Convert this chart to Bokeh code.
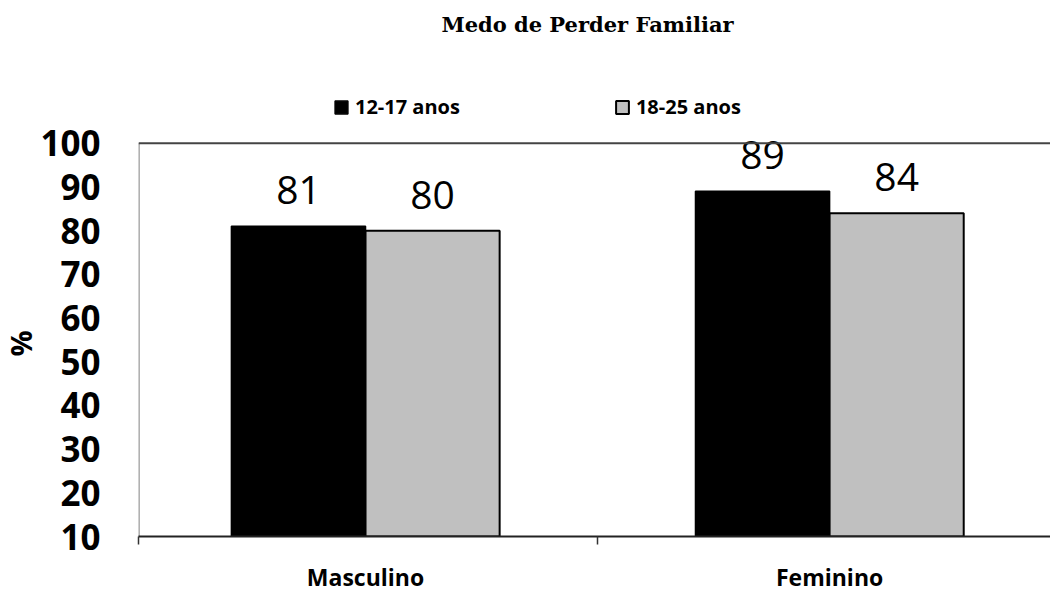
from bokeh.plotting import figure
from bokeh.models import (ColumnDataSource, FixedTicker, Legend, LegendItem,
                          Range1d, LabelSet, Label, Span, Title)
from bokeh.core.properties import value
from bokeh.embed import file_html
from bokeh.resources import INLINE

# Data
categories = ["Masculino", "Feminino"]
series_names = ["12-17 anos", "18-25 anos"]
values_12_17 = [81, 89]
values_18_25 = [80, 84]
y_ticks = [10, 20, 30, 40, 50, 60, 70, 80, 90, 100]
y_min, y_max = 10, 100

bar_w = 0.289
centers = [i + 0.5 for i in range(len(categories))]
x_start, x_end = 0.0108, 1.976

src_a = ColumnDataSource(dict(
    x=[c - bar_w / 2 for c in centers], top=values_12_17,
    label=[str(v) for v in values_12_17]))
src_b = ColumnDataSource(dict(
    x=[c + bar_w / 2 for c in centers], top=values_18_25,
    label=[str(v) for v in values_18_25]))

# The frame reaches the top of the canvas so that the title and legend
# can sit inside it, above the 100 line.
p = figure(width=1050, height=595, output_backend="svg", toolbar_location=None,
           x_range=Range1d(x_start, x_end), y_range=Range1d(y_min, 132.67),
           min_border_left=133, min_border_right=0, min_border_top=0,
           min_border_bottom=58, outline_line_color=None,
           background_fill_color="white", border_fill_color="white")

p.xgrid.visible = False
p.ygrid.visible = False

r_a = p.vbar(x="x", top="top", bottom=y_min, width=bar_w, source=src_a,
             fill_color="black", line_color="black", line_width=1.5)
r_b = p.vbar(x="x", top="top", bottom=y_min, width=bar_w, source=src_b,
             fill_color="#C0C0C0", line_color="black", line_width=2)

for src in (src_a, src_b):
    p.add_layout(LabelSet(x="x", y="top", text="label", source=src,
                          text_align="center", text_baseline="alphabetic",
                          y_offset=22, text_font=value("Open Sans"),
                          text_font_size="39px", text_color="black"))

# plot-area border: top line at 100 and left line from 10 to 100
p.add_layout(Span(location=y_max, dimension="width", line_color="#444444",
                  line_width=2))
p.segment(x0=[x_start + 0.001], y0=[y_min], x1=[x_start + 0.001], y1=[y_max],
          line_color="#555555", line_width=1)

# title
p.add_layout(Label(x=449, y=512, x_units="screen", y_units="screen",
                   text="Medo de Perder Familiar", text_align="center",
                   text_baseline="middle", text_font="DejaVu Serif",
                   text_font_style="bold", text_font_size="21px",
                   text_color="black"))

# x axis: category names centred, boundary ticks between groups
xa = p.xaxis[0]
xa.ticker = FixedTicker(ticks=centers, minor_ticks=[x_start, 1, 2])
xa.major_label_overrides = {c: n for c, n in zip(centers, categories)}
xa.major_tick_line_color = None
xa.major_tick_out = 0
xa.major_tick_in = 0
xa.minor_tick_line_color = "#333333"
xa.minor_tick_line_width = 1.5
xa.minor_tick_out = 8
xa.minor_tick_in = 0
xa.axis_line_color = "#222222"
xa.axis_line_width = 2
xa.major_label_standoff = 16
xa.major_label_text_font = "Open Sans"
xa.major_label_text_font_style = "bold"
xa.major_label_text_font_size = "23px"
xa.major_label_text_color = "black"

# y axis
ya = p.yaxis[0]
ya.ticker = FixedTicker(ticks=y_ticks)
ya.major_tick_line_color = None
ya.minor_tick_line_color = None
ya.major_tick_out = 0
ya.major_tick_in = 0
ya.axis_line_color = None
ya.major_label_standoff = 38
ya.major_label_text_font = "Open Sans"
ya.major_label_text_font_style = "bold"
ya.major_label_text_font_size = "35px"
ya.major_label_text_color = "black"

# "%" axis title, centred on the 10-100 span
pct = Title(text="%", align="left", offset=180, standoff=-4,
            text_font="Open Sans", text_font_style="bold",
            text_font_size="29px", text_color="black")
p.add_layout(pct, "left")

legend = Legend(items=[LegendItem(label=series_names[0], renderers=[r_a]),
                       LegendItem(label=series_names[1], renderers=[r_b])],
                orientation="horizontal", location=(195, 416),
                border_line_color=None, background_fill_alpha=0,
                padding=0, margin=0, spacing=154,
                glyph_width=16, glyph_height=16, label_standoff=6,
                label_text_font="Open Sans", label_text_font_style="bold",
                label_text_font_size="20px", label_text_color="black")
p.add_layout(legend, "center")

open("out.html", "w").write(file_html(p, INLINE))
